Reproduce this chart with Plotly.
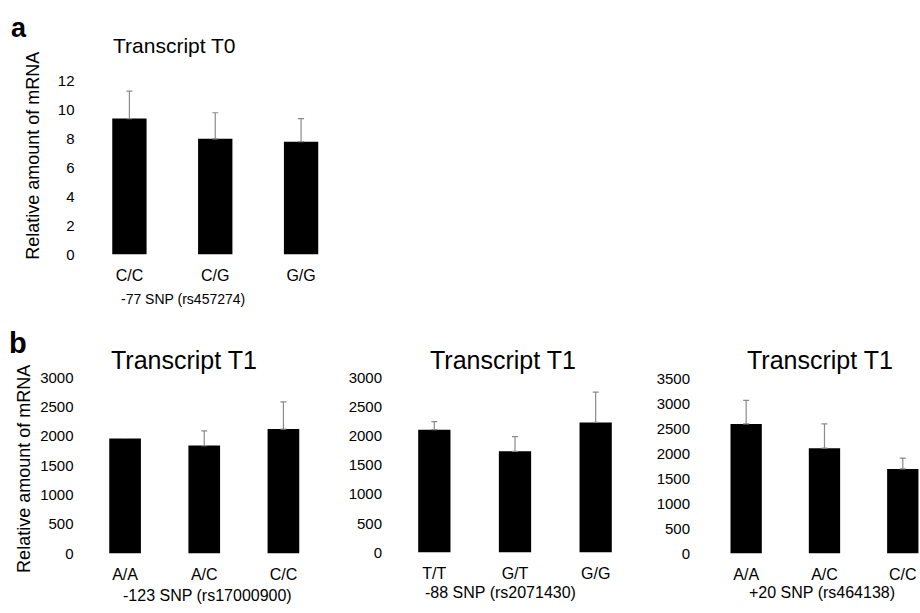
import plotly.graph_objects as go

W, H = 920, 613

# ---- data ----
a_cats = ["C/C", "C/G", "G/G"]
a_vals = [9.4, 8.0, 7.8]
a_err = [1.9, 1.8, 1.6]

b1_cats = ["A/A", "A/C", "C/C"]
b1_vals = [1960, 1840, 2120]
b1_err = [0, 250, 465]

b2_cats = ["T/T", "G/T", "G/G"]
b2_vals = [2105, 1735, 2230]
b2_err = [140, 250, 520]

b3_cats = ["A/A", "A/C", "C/C"]
b3_vals = [2590, 2105, 1690]
b3_err = [470, 485, 215]

a_ticks = [0, 2, 4, 6, 8, 10, 12]
b12_ticks = [0, 500, 1000, 1500, 2000, 2500, 3000]
b3_ticks = [0, 500, 1000, 1500, 2000, 2500, 3000, 3500]

FONT = "Arial, Liberation Sans, Helvetica, sans-serif"


def px(x):
    return x / W


def py(y):
    return 1 - y / H


fig = go.Figure()

panels = [
    # cats, vals, err, axis id, x domain px, y domain px, yrange, ticks, xrange
    (a_cats, a_vals, a_err, "", (86.5, 344), (74, 252.5), [0, 12], a_ticks, [-0.5, 2.5]),
    (b1_cats, b1_vals, b1_err, "2", (85.5, 323), (379, 560), [0, 3000], b12_ticks, [-0.5, 2.5]),
    (b2_cats, b2_vals, b2_err, "3", (394, 636), (379, 559), [0, 3000], b12_ticks, [-0.5, 2.5]),
    (b3_cats, b3_vals, b3_err, "4", (707, 920), (380, 560), [0, 3500], b3_ticks, [-0.5, 2.5 - 22 / 78.5]),
]

layout = {}
for cats, vals, err, k, xd, yd, yr, ticks, xr in panels:
    fig.add_trace(go.Bar(
        x=cats, y=vals, width=0.4,
        marker=dict(color="black", line=dict(width=0)),
        error_y=dict(type="data", array=err, arrayminus=[0] * len(err), symmetric=False,
                     color="#8a8a8a", thickness=1.2, width=3, visible=True),
        xaxis="x" + k, yaxis="y" + k, showlegend=False,
    ))
    layout["xaxis" + k] = dict(
        domain=[px(xd[0]), px(xd[1])], anchor="y" + k, range=xr,
        type="category", showline=False, showgrid=False, zeroline=False,
        ticks="", ticklabelstandoff=10,
        tickfont=dict(size=16, color="black", family=FONT),
    )
    layout["yaxis" + k] = dict(
        domain=[py(yd[1]), py(yd[0])], anchor="x" + k, range=yr,
        tickvals=ticks, showline=False, showgrid=False, zeroline=False,
        ticks="", ticklabelstandoff=11 if k != "4" else 16,
        tickfont=dict(size=15, color="black", family=FONT),
    )

ann = []


def add_text(text, x, y, size, bold=False, angle=0):
    ann.append(dict(
        text=("<b>%s</b>" % text) if bold else text,
        x=px(x), y=py(y), xref="paper", yref="paper",
        showarrow=False, textangle=angle,
        xanchor="center", yanchor="middle",
        font=dict(size=size, color="black", family=FONT),
    ))


add_text("a", 19, 20, 27, bold=True)
add_text("b", 18, 344, 29, bold=True)
add_text("Transcript T0", 174, 38, 21)
add_text("Transcript T1", 184, 361, 25)
add_text("Transcript T1", 503, 361, 25)
add_text("Transcript T1", 820, 361, 25)
add_text("Relative amount of mRNA", 33, 151, 18, angle=-90)
add_text("Relative amount of mRNA", 24, 473, 18, angle=-90)
add_text("-77 SNP (rs457274)", 183, 298, 14)
add_text("-123 SNP (rs17000900)", 207, 603, 16)
add_text("-88 SNP (rs2071430)", 500, 600, 16)
add_text("+20 SNP (rs464138)", 822, 600, 16)

fig.update_layout(
    width=W, height=H,
    margin=dict(l=0, r=0, t=0, b=0),
    paper_bgcolor="white", plot_bgcolor="white",
    font=dict(family=FONT, color="black"),
    annotations=ann,
    bargap=0.6,
    **layout,
)

fig.write_html(
    "out.html",
    config={"displayModeBar": False},
    post_script="document.body.style.margin='0px';document.body.style.overflow='hidden';",
)
